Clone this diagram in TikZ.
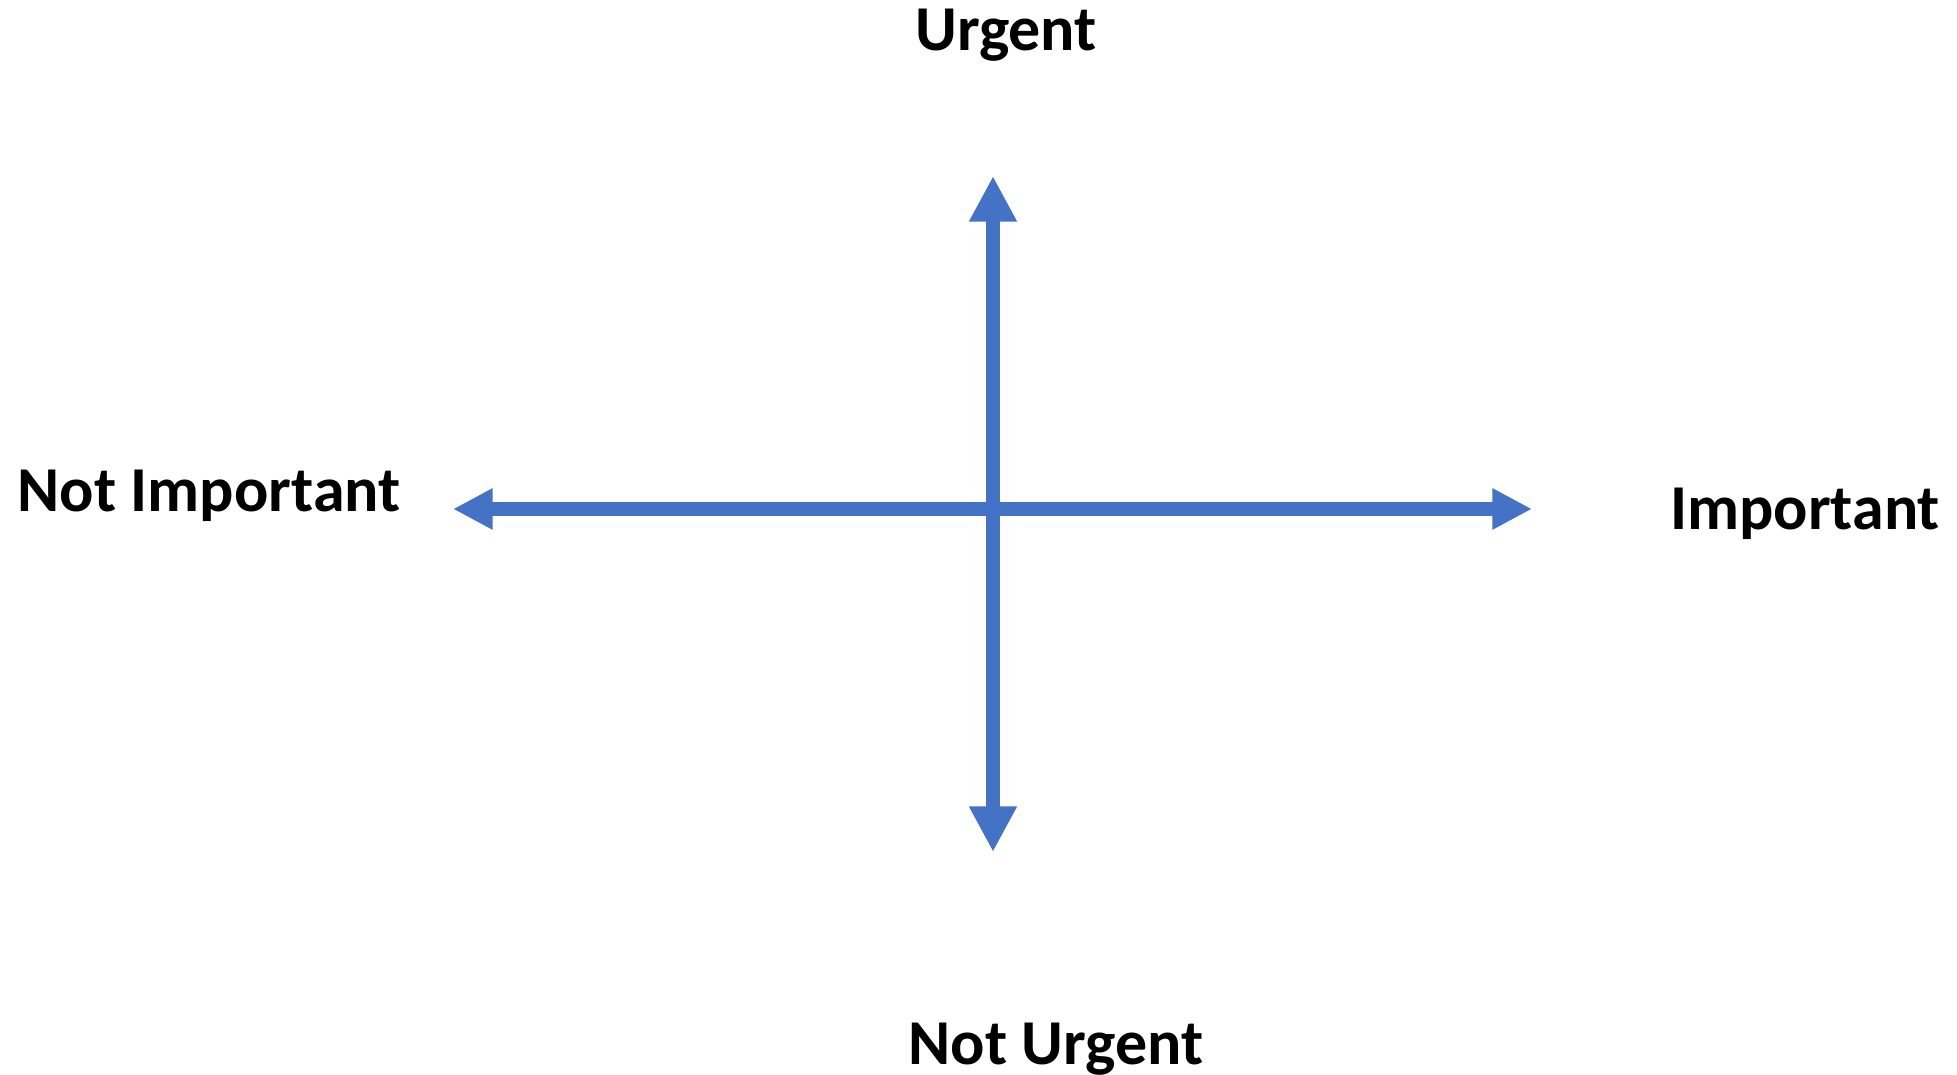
\documentclass[tikz,border=0pt]{standalone}
\usepackage{fontspec}
\setmainfont{Carlito}
\usetikzlibrary{arrows.meta}
\definecolor{eixo}{HTML}{4472C4}
\tikzset{
	eixo/.style={draw=eixo, line width=4.25pt},
	rotulo/.style={font=\fontsize{18.2}{21}\selectfont\bfseries, anchor=base, inner sep=0pt}
}
\begin{document}
\begin{tikzpicture}
	\useasboundingbox (0,0) rectangle (19.57,10.75);

% extremos dos eixos
	\coordinate (topo) at (9.93,8.99);
	\coordinate (base) at (9.93,2.23);
	\coordinate (esq) at (4.53,5.66);
	\coordinate (dir) at (15.32,5.66);

% eixos
	\draw[eixo, {Triangle[length=13pt,width=12.75pt]}-{Triangle[length=13pt,width=12.75pt]}] (topo) -- (base);
	\draw[eixo, {Triangle[length=11.3pt,width=11pt]}-{Triangle[length=11.3pt,width=11pt]}] (esq) -- (dir);

% rotulos
	\node[rotulo] (urg) at (10.06,10.24) {Urgent};
	\node[rotulo] (naourg) at (10.56,0.10) {Not Urgent};
	\node[rotulo] (naoimp) at (2.09,5.63) {Not Important};
	\node[rotulo] (imp) at (18.05,5.45) {Important};

\end{tikzpicture}
\end{document}
